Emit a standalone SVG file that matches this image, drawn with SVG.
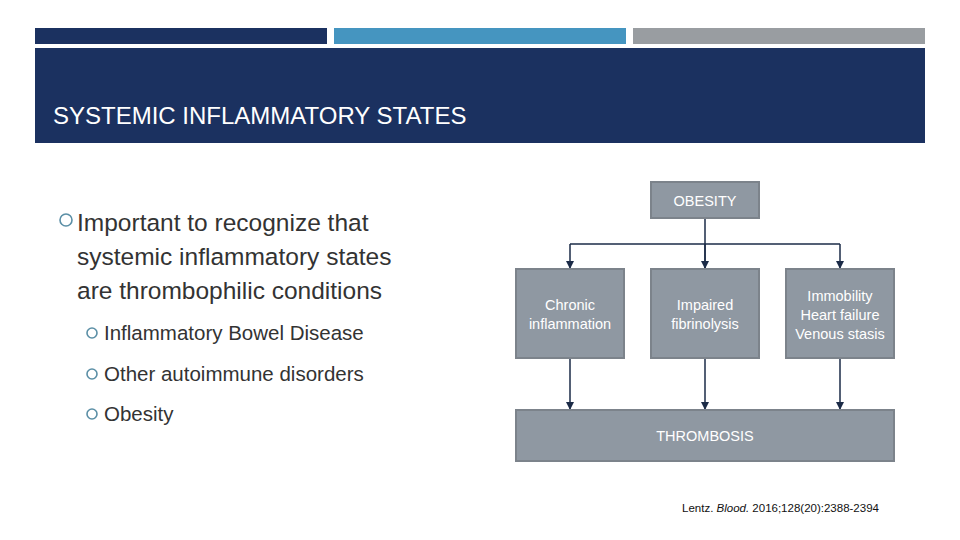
<svg xmlns="http://www.w3.org/2000/svg" width="960" height="540" viewBox="0 0 960 540">
<style>
.box{fill:#8f98a2;stroke:#7c838b;stroke-width:2}
.bt{font-family:"Liberation Sans",Arial,sans-serif;font-size:14.5px;fill:#fff;text-anchor:middle}
.tx{font-family:"Liberation Sans",Arial,sans-serif;fill:#333}
.bul{fill:none;stroke:#5b8fa6;stroke-width:1.6}
.cn{stroke:#1b2b47;stroke-width:1.5;fill:none}
</style>
<defs><marker id="ah" markerWidth="8" markerHeight="8" refX="7" refY="4" orient="auto" markerUnits="userSpaceOnUse"><path d="M0,0L8,4L0,8z" fill="#1b2b47"/></marker></defs>
<rect width="960" height="540" fill="#fff"/>
<rect x="35" y="28" width="292" height="16" fill="#1b3160"/>
<rect x="334" y="28" width="292" height="16" fill="#4595c0"/>
<rect x="633" y="28" width="292" height="16" fill="#999da1"/>
<rect x="35" y="48" width="890" height="95" fill="#1b3160"/>
<text x="53" y="124" font-family="'Liberation Sans',Arial,sans-serif" font-size="24" fill="#fff">SYSTEMIC INFLAMMATORY STATES</text>
<circle cx="66" cy="220" r="6" class="bul" stroke-width="2.4"/>
<text class="tx" font-size="24.5"><tspan x="77" y="231">Important to recognize that</tspan><tspan x="77" y="265">systemic inflammatory states</tspan><tspan x="77" y="299">are thrombophilic conditions</tspan></text>
<circle cx="92" cy="333" r="5" class="bul"/>
<circle cx="92" cy="374" r="5" class="bul"/>
<circle cx="92" cy="414" r="5" class="bul"/>
<text class="tx" font-size="20.5"><tspan x="104" y="340">Inflammatory Bowel Disease</tspan><tspan x="104" y="381">Other autoimmune disorders</tspan><tspan x="104" y="421">Obesity</tspan></text>
<g id="connectors">
<path class="cn" d="M705,218V268"/>
<path class="cn" d="M570,244H840"/>
<path class="cn" d="M570,244V268" marker-end="url(#ah)"/>
<path class="cn" d="M705,244V268" marker-end="url(#ah)"/>
<path class="cn" d="M840,244V268" marker-end="url(#ah)"/>
<path class="cn" d="M570,358V409" marker-end="url(#ah)"/>
<path class="cn" d="M705,358V409" marker-end="url(#ah)"/>
<path class="cn" d="M840,358V409" marker-end="url(#ah)"/>
</g>
<g id="obesity"><rect class="box" x="651" y="182" width="108" height="36"/><text class="bt" x="705" y="206">OBESITY</text></g>
<g id="chronic"><rect class="box" x="516" y="269" width="108" height="89"/><text class="bt"><tspan x="570" y="310">Chronic</tspan><tspan x="570" y="329">inflammation</tspan></text></g>
<g id="impaired"><rect class="box" x="651" y="269" width="108" height="89"/><text class="bt"><tspan x="705" y="310">Impaired</tspan><tspan x="705" y="329">fibrinolysis</tspan></text></g>
<g id="immobility"><rect class="box" x="786" y="269" width="108" height="89"/><text class="bt"><tspan x="840" y="301">Immobility</tspan><tspan x="840" y="320">Heart failure</tspan><tspan x="840" y="339">Venous stasis</tspan></text></g>
<g id="thrombosis"><rect class="box" x="516" y="410" width="378" height="51"/><text class="bt" x="705" y="441">THROMBOSIS</text></g>
<text x="682" y="512" font-family="'Liberation Sans',Arial,sans-serif" font-size="11.5" fill="#111">Lentz. <tspan font-style="italic">Blood.</tspan> 2016;128(20):2388-2394</text>
</svg>
